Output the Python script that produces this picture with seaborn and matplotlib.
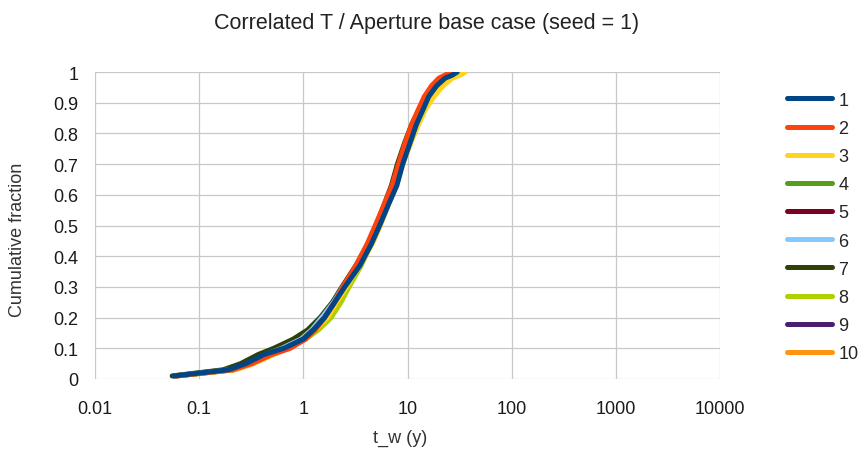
import numpy as np
import pandas as pd
import matplotlib
matplotlib.use("Agg")
import matplotlib.pyplot as plt
import seaborn as sns
from matplotlib.ticker import FixedLocator, FixedFormatter, NullLocator

# Cumulative fraction levels (common to all series)
y_levels = [0.01, 0.03, 0.05, 0.08, 0.10, 0.13, 0.16, 0.20, 0.25, 0.30, 0.37, 0.44,
            0.50, 0.57, 0.63, 0.70, 0.77, 0.83, 0.88, 0.92, 0.955, 0.98, 0.99, 1.00]

# t_w (y) read per series at the levels above
s1 = [0.057, 0.19, 0.28, 0.42, 0.65, 1.0, 1.25, 1.6, 2.0, 2.5, 3.5, 4.5, 5.4, 6.6, 7.9, 9.0, 10.6, 12.2, 14.2, 16, 19, 23, 27, 30]
s2 = [0.06, 0.21, 0.32, 0.50, 0.75, 1.05, 1.3, 1.6, 2.0, 2.4, 3.2, 4.1, 4.9, 6.0, 7.1, 8.2, 9.5, 11.0, 12.8, 14.5, 17, 20, 23, 26]
s3 = [0.06, 0.22, 0.33, 0.52, 0.72, 1.02, 1.3, 1.7, 2.1, 2.6, 3.5, 4.6, 5.5, 6.6, 7.8, 9.0, 10.8, 12.8, 15, 18, 22, 27, 32, 36]
s4 = [0.058, 0.2, 0.3, 0.46, 0.7, 1.0, 1.25, 1.65, 2.1, 2.55, 3.4, 4.4, 5.2, 6.3, 7.5, 8.6, 10.2, 12.0, 14.0, 16.5, 20, 25, 30, 34]
s5 = [0.06, 0.21, 0.31, 0.47, 0.68, 1.0, 1.25, 1.6, 2.0, 2.45, 3.3, 4.2, 5.0, 6.1, 7.3, 8.5, 10.0, 11.6, 13.5, 15.5, 18.5, 22, 25, 28]
s6 = [0.058, 0.2, 0.29, 0.44, 0.62, 0.95, 1.2, 1.5, 1.95, 2.4, 3.3, 4.3, 5.1, 6.2, 7.4, 8.6, 10.1, 11.8, 13.6, 15.8, 19, 23, 28, 33]
s7 = [0.055, 0.17, 0.25, 0.37, 0.52, 0.8, 1.1, 1.45, 1.9, 2.35, 3.2, 4.2, 5.0, 6.0, 7.0, 8.0, 9.4, 11.0, 13.0, 15.0, 18, 22, 26, 29]
s8 = [0.06, 0.21, 0.31, 0.48, 0.7, 1.05, 1.4, 1.85, 2.3, 2.75, 3.6, 4.5, 5.3, 6.4, 7.6, 8.8, 10.4, 12.2, 14.2, 16.5, 20, 24, 28, 31]
s9 = [0.058, 0.2, 0.3, 0.45, 0.66, 0.98, 1.22, 1.55, 1.95, 2.4, 3.3, 4.3, 5.1, 6.2, 7.4, 8.6, 10.1, 11.7, 13.6, 15.6, 18.5, 22, 26, 29]
s10 = [0.06, 0.22, 0.33, 0.5, 0.72, 1.05, 1.35, 1.75, 2.2, 2.65, 3.5, 4.4, 5.2, 6.3, 7.5, 8.7, 10.3, 12.0, 14.0, 16.2, 19.5, 23.5, 27, 30]

series_names = ["1", "2", "3", "4", "5", "6", "7", "8", "9", "10"]
series_x = [s1, s2, s3, s4, s5, s6, s7, s8, s9, s10]
colors = ["#004586", "#ff420e", "#ffd320", "#579d1c", "#7e0021",
          "#83caff", "#314004", "#aecf00", "#4b1f6f", "#ff950e"]

x_ticks = [0.01, 0.1, 1, 10, 100, 1000, 10000]
x_tick_labels = ["0.01", "0.1", "1", "10", "100", "1000", "10000"]
y_ticks = [0, 0.1, 0.2, 0.3, 0.4, 0.5, 0.6, 0.7, 0.8, 0.9, 1]
y_tick_labels = ["0", "0.1", "0.2", "0.3", "0.4", "0.5", "0.6", "0.7", "0.8", "0.9", "1"]

rows = []
for name, xs in zip(series_names, series_x):
    for x, y in zip(xs, y_levels):
        rows.append({"series": name, "t_w": x, "frac": y})
df = pd.DataFrame(rows)

sns.set_style("white")
plt.rcParams["font.family"] = ["Liberation Sans", "DejaVu Sans"]

fig = plt.figure(figsize=(8.63, 4.60), dpi=100)
ax = fig.add_axes([95/863, 1-380/460, (720-95)/863, (380-73)/460])

palette = dict(zip(series_names, colors))
# draw later series first so series 1 ends on top
for name in reversed(series_names):
    sub = df[df["series"] == name]
    sns.lineplot(data=sub, x="t_w", y="frac", color=palette[name], lw=3.6,
                 sort=False, estimator=None, ax=ax, legend=False)

ax.set_xscale("log")
ax.set_xlim(0.01, 10000)
ax.set_ylim(0, 1)
ax.xaxis.set_major_locator(FixedLocator(x_ticks))
ax.xaxis.set_major_formatter(FixedFormatter(x_tick_labels))
ax.xaxis.set_minor_locator(NullLocator())
ax.yaxis.set_major_locator(FixedLocator(y_ticks))
ax.yaxis.set_major_formatter(FixedFormatter(y_tick_labels))

ax.grid(True, color="#c8c8c8", lw=0.9)
ax.set_axisbelow(True)
for sp in ax.spines.values():
    sp.set_visible(False)
ax.tick_params(axis="both", which="major", length=6, width=0.9, color="#c8c8c8",
               labelsize=13, labelcolor="#1a1a1a", pad=6)
ax.tick_params(axis="x", pad=9)
ax.set_xlabel("")
ax.set_ylabel("")

fig.text(400/863, 1-438/460, "t_w (y)", ha="center", va="center", fontsize=13, color="#333333")
fig.text(18/863, 1-240/460, "Cumulative fraction", ha="center", va="center",
         rotation=90, fontsize=13, color="#333333")
fig.text(427/863, 1-24/460, "Correlated T / Aperture base case (seed = 1)",
         ha="center", va="center", fontsize=15.5, color="#222222")

handles = [plt.Line2D([], [], color=c, lw=3.6) for c in colors]
fig.legend(handles, series_names, loc="center left", bbox_to_anchor=(787/863, 1-228/460),
           bbox_transform=fig.transFigure, frameon=False, fontsize=13,
           handlelength=2.5, handletextpad=0.35, labelspacing=0.62, borderpad=0,
           borderaxespad=0)

fig.savefig("out.png", dpi=100)
